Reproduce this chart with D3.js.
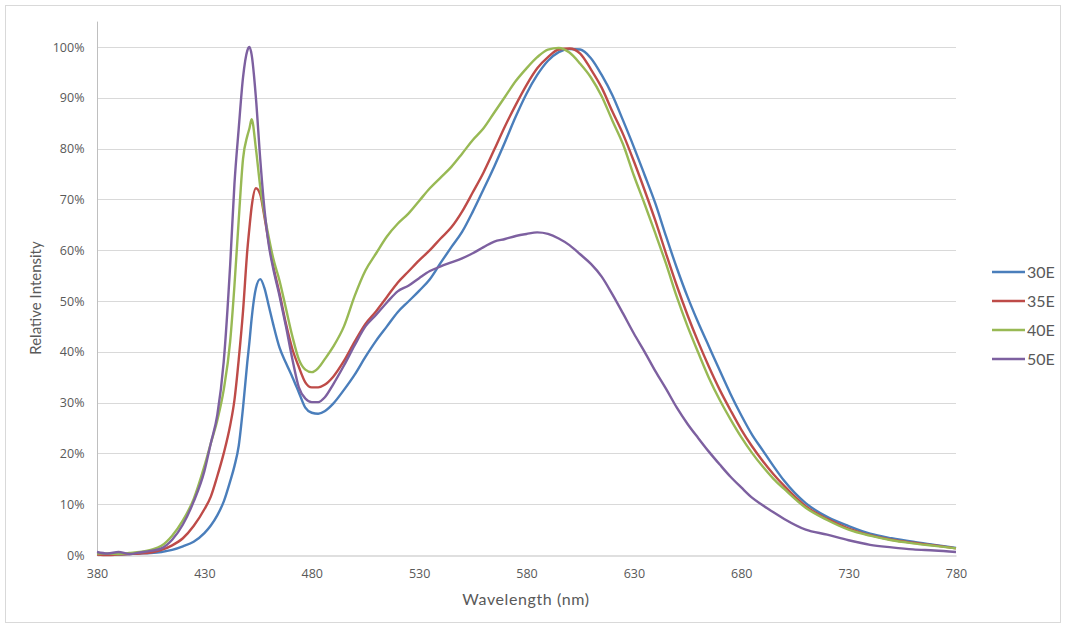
<!DOCTYPE html>
<html>
<head>
<meta charset="utf-8">
<script src="https://cdn.jsdelivr.net/npm/d3@7"></script>
<style>
  body { margin: 0; background: #fff; }
  text { fill: #595959; }
</style>
</head>
<body>
<svg id="chart" width="1065" height="627"></svg>
<script>
// wavelength samples (nm), finer around the blue peak
const wavelengths = [380,385,390,395,400,405,410,415,420,425,430,433,436,439,442,444,446,448,450,451,452,454,456,458,460,462,465,468,471,474,477,480,483,486,490,495,500,505,510,515,520,525,530,535,540,545,550,555,560,565,570,575,580,585,590,595,600,605,610,615,620,625,630,635,640,645,650,655,660,665,670,675,680,685,690,695,700,710,720,730,740,750,760,770,780]

// relative intensity in %
const s30E = [0.2,0.1,0.1,0.2,0.3,0.4,0.6,1.0,1.7,2.6,4.3,5.8,7.8,10.5,14.5,17.5,21.5,29,38,42,46.5,52.5,54.3,52.5,49,45.5,40.8,37.8,35,32,29,28,27.8,28.3,29.8,32.5,35.5,39,42.2,45,47.8,49.9,52,54.3,57.5,60.6,63.6,67.6,72,76.5,81.3,86.3,90.8,94.5,97.3,99,99.6,99.5,97.8,94.5,90.5,85.5,80.3,74.8,69.2,62.7,56.5,50.8,45.7,41,36.3,31.7,27.5,23.7,20.6,17.5,14.6,10.2,7.5,5.7,4.2,3.3,2.6,2.0,1.4]
const s35E = [0.1,0.0,0.1,0.2,0.3,0.5,1.0,1.9,3.3,5.7,9.0,11.5,15.5,20,25.5,30.5,38.5,48,60,64.5,68.5,72.2,71,66.5,61.5,57,51.5,45.5,40.5,37,34,33,33,33.5,35.1,38.2,42,45.5,48,50.8,53.6,55.8,58,60,62.3,64.5,67.6,71.4,75.3,79.8,84.4,88.6,92.5,95.8,98,99.5,99.7,98.7,95.6,92,87.3,82.8,77.5,71.8,65.8,59.3,53,47.2,41.9,37,32.5,28.5,24.7,21.4,18.5,15.9,13.6,9.6,7.1,5.2,3.9,3.0,2.4,1.9,1.3]
const s40E = [0.3,0.3,0.2,0.4,0.6,1.0,1.8,3.8,6.8,11,17.5,22,26.5,32.5,42,53,66,78,82.5,84,85.8,80,72.5,67,62.5,58.5,54,48.5,43,38.5,36.5,36,36.8,38.5,41,45,51,56,59.4,62.7,65.2,67.2,69.7,72.2,74.3,76.4,79,81.7,84,87.1,90.2,93.3,95.8,98,99.5,99.8,98.9,96.7,94,90.3,85.5,80.8,74.7,69.1,63.3,57.3,50.8,45,39.8,34.8,30.5,26.7,23.2,20.1,17.4,15,13,9.3,6.9,5.0,3.8,2.9,2.3,1.8,1.3]
const s50E = [0.6,0.3,0.6,0.2,0.5,0.8,1.3,3.0,6.0,10.5,16.5,22,27.5,38,57,73,84,94,99.3,100,98.5,90,78,68,61,56.5,51,45,38.5,33,30.8,30.1,30.1,31,33.6,37.3,41.3,45,47.3,49.7,51.9,53,54.5,55.9,56.8,57.6,58.4,59.4,60.6,61.7,62.2,62.8,63.2,63.5,63.2,62.3,61,59.2,57.3,54.8,51.3,47.5,43.6,40,36.2,32.7,29,25.8,23,20.3,17.8,15.4,13.3,11.3,9.8,8.4,7.1,5.0,4.0,2.9,2.0,1.5,1.1,0.9,0.6]

const seriesNames = ['30E', '35E', '40E', '50E']
const seriesValues = [s30E, s35E, s40E, s50E]
const seriesColors = ['#4a7ebb', '#be4b48', '#98b954', '#7d60a0']

const xTicks = [380, 430, 480, 530, 580, 630, 680, 730, 780]
const yTicks = [0, 10, 20, 30, 40, 50, 60, 70, 80, 90, 100]

const svg = d3.select('#chart')

svg.append('rect')
  .attr('x', 5.5).attr('y', 5.5)
  .attr('width', 1055).attr('height', 617)
  .attr('fill', '#fff')
  .attr('stroke', '#d9d9d9')

const x = d3.scaleLinear().domain([380, 780]).range([97, 956])
const y = d3.scaleLinear().domain([0, 105]).range([555, 21.6])

// gridlines
svg.append('g')
  .selectAll('line')
  .data(yTicks.filter((d) => d > 0))
  .enter()
  .append('line')
  .attr('x1', x(380)).attr('x2', x(780))
  .attr('y1', (d) => Math.round(y(d)) + 0.5)
  .attr('y2', (d) => Math.round(y(d)) + 0.5)
  .attr('stroke', '#d9d9d9')
  .attr('stroke-width', 1)

// axes
const yAxis = svg.append('g')
  .attr('transform', `translate(${Math.round(x(380)) + 0.5},0)`)
  .call(d3.axisLeft(y).tickValues(yTicks).tickSize(0).tickPadding(13).tickFormat((d) => d + '%'))
yAxis.select('.domain').attr('stroke', '#bfbfbf').attr('d', `M0,${y(0)}V${y(105)}`)
yAxis.selectAll('text')
  .attr('font-family', '"Open Sans", sans-serif')
  .attr('font-size', 12.5)
  .attr('fill', '#595959')

const xAxis = svg.append('g')
  .attr('transform', `translate(0,${Math.round(y(0)) + 0.5})`)
  .call(d3.axisBottom(x).tickValues(xTicks).tickSize(0).tickPadding(14))
xAxis.select('.domain').attr('stroke', '#bfbfbf')
xAxis.selectAll('text')
  .attr('font-family', '"Open Sans", sans-serif')
  .attr('font-size', 12.5)
  .attr('fill', '#595959')

// axis titles
svg.append('text')
  .attr('x', 526).attr('y', 605)
  .attr('text-anchor', 'middle')
  .attr('font-family', 'Lato, sans-serif')
  .attr('font-size', 16)
  .attr('letter-spacing', 0.6)
  .text('Wavelength (nm)')

svg.append('text')
  .attr('transform', 'translate(41,298) rotate(-90)')
  .attr('text-anchor', 'middle')
  .attr('font-family', 'Lato, sans-serif')
  .attr('font-size', 15)
  .text('Relative Intensity')

// series lines
const line = d3.line()
  .x((d) => x(d[0]))
  .y((d) => y(d[1]))
  .curve(d3.curveMonotoneX)

svg.append('g')
  .selectAll('path')
  .data(seriesValues)
  .enter()
  .append('path')
  .attr('d', (vals) => line(wavelengths.map((w, i) => [w, vals[i]])))
  .attr('fill', 'none')
  .attr('stroke', (d, i) => seriesColors[i])
  .attr('stroke-width', 2.4)
  .attr('stroke-linejoin', 'round')

// legend
const legend = svg.append('g')
  .selectAll('g')
  .data(seriesNames)
  .enter()
  .append('g')
  .attr('transform', (d, i) => `translate(992,${272 + i * 29})`)

legend.append('line')
  .attr('x1', 0).attr('x2', 33)
  .attr('stroke', (d, i) => seriesColors[i])
  .attr('stroke-width', 2.4)

legend.append('text')
  .attr('x', 35).attr('y', 5.5)
  .attr('font-family', 'Lato, sans-serif')
  .attr('font-size', 16)
  .text((d) => d)
</script>
</body>
</html>
